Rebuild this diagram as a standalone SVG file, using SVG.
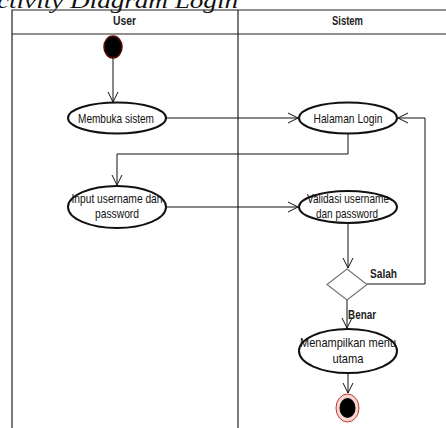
<svg xmlns="http://www.w3.org/2000/svg" width="446" height="428" viewBox="0 0 446 428">
  <defs>
    <style>
      .lane { fill: none; stroke: #222; stroke-width: 1.2; }
      .hdr { font-family: "Liberation Sans", Arial, sans-serif; font-size: 12px; font-weight: bold; fill: #222; text-anchor: middle; }
      .act { fill: #fff; stroke: #111; stroke-width: 2; }
      .lbl { font-family: "Liberation Sans", Arial, sans-serif; font-size: 13px; fill: #111; text-anchor: middle; }
      .guard { font-family: "Liberation Sans", Arial, sans-serif; font-size: 12px; font-weight: bold; fill: #222; }
      .flow { fill: none; stroke: #111; stroke-width: 1; marker-end: url(#open); }
      .title { font-family: "Liberation Serif", "Times New Roman", serif; font-style: italic; font-size: 21px; fill: #111; }
    </style>
    <marker id="open" viewBox="0 0 12 12" refX="11" refY="6" markerWidth="12" markerHeight="12" markerUnits="userSpaceOnUse" orient="auto">
      <path d="M1,1 L11,6 L1,11" fill="none" stroke="#111" stroke-width="1"/>
    </marker>
  </defs>

  <rect width="446" height="428" fill="#fff"/>

  <!-- caption -->
  <text class="title" x="-3" y="7.5" textLength="241" lengthAdjust="spacingAndGlyphs">ctivity Diagram Login</text>

  <!-- swimlanes -->
  <g id="swimlanes">
    <path class="lane" d="M12,428 V10 H446 M12,34 H446 M238,10 V428"/>
    <text class="hdr" x="124.5" y="25" textLength="23" lengthAdjust="spacingAndGlyphs">User</text>
    <text class="hdr" x="347.5" y="25" textLength="31" lengthAdjust="spacingAndGlyphs">Sistem</text>
  </g>

  <!-- control flows -->
  <g id="connectors">
    <path class="flow" d="M113,58 V102"/>
    <path class="flow" d="M166,118 H298"/>
    <path class="flow" d="M348,134 V154 H117 V185"/>
    <path class="flow" d="M167,207 H298"/>
    <path class="flow" d="M348,223 V268"/>
    <path class="flow" d="M367,284 H425 V118 H398"/>
    <path class="flow" d="M347,300 V328"/>
    <path class="flow" d="M348,373 V393"/>
    <text class="guard" x="370" y="278" textLength="27" lengthAdjust="spacingAndGlyphs">Salah</text>
    <text class="guard" x="348" y="319" textLength="28" lengthAdjust="spacingAndGlyphs">Benar</text>
  </g>

  <g id="start">
    <ellipse cx="113" cy="47" rx="9" ry="11" fill="#000" stroke="#5a0a0a" stroke-width="1.5"/>
  </g>

  <g id="membuka-sistem">
    <ellipse class="act" cx="117" cy="118" rx="49" ry="15.5"/>
    <text class="lbl" x="116" y="123" textLength="76" lengthAdjust="spacingAndGlyphs">Membuka sistem</text>
  </g>

  <g id="halaman-login">
    <ellipse class="act" cx="348" cy="118" rx="49" ry="15.5"/>
    <text class="lbl" x="348" y="123" textLength="69" lengthAdjust="spacingAndGlyphs">Halaman Login</text>
  </g>

  <g id="input-username">
    <ellipse class="act" cx="117" cy="207" rx="49" ry="21"/>
    <text class="lbl" x="117" y="203" textLength="91" lengthAdjust="spacingAndGlyphs">Input username dan</text>
    <text class="lbl" x="117" y="218" textLength="44" lengthAdjust="spacingAndGlyphs">password</text>
  </g>

  <g id="validasi">
    <ellipse class="act" cx="348" cy="207" rx="49" ry="16"/>
    <text class="lbl" x="348" y="203" textLength="82" lengthAdjust="spacingAndGlyphs">Validasi username</text>
    <text class="lbl" x="347" y="218" textLength="62" lengthAdjust="spacingAndGlyphs">dan password</text>
  </g>

  <g id="decision">
    <polygon points="347,269 367,284.5 347,300 327,284.5" fill="#fff" stroke="#777" stroke-width="1.2"/>
  </g>

  <g id="menampilkan-menu">
    <ellipse class="act" cx="348" cy="351" rx="49" ry="22"/>
    <text class="lbl" x="348" y="347" textLength="96" lengthAdjust="spacingAndGlyphs">Menampilkan menu</text>
    <text class="lbl" x="348" y="363" textLength="31" lengthAdjust="spacingAndGlyphs">utama</text>
  </g>

  <g id="end">
    <ellipse cx="347.5" cy="408" rx="11.5" ry="14" fill="#f6d6d2" stroke="#c0392b" stroke-width="1"/>
    <ellipse cx="347.5" cy="408" rx="8" ry="10" fill="#000"/>
  </g>
</svg>
